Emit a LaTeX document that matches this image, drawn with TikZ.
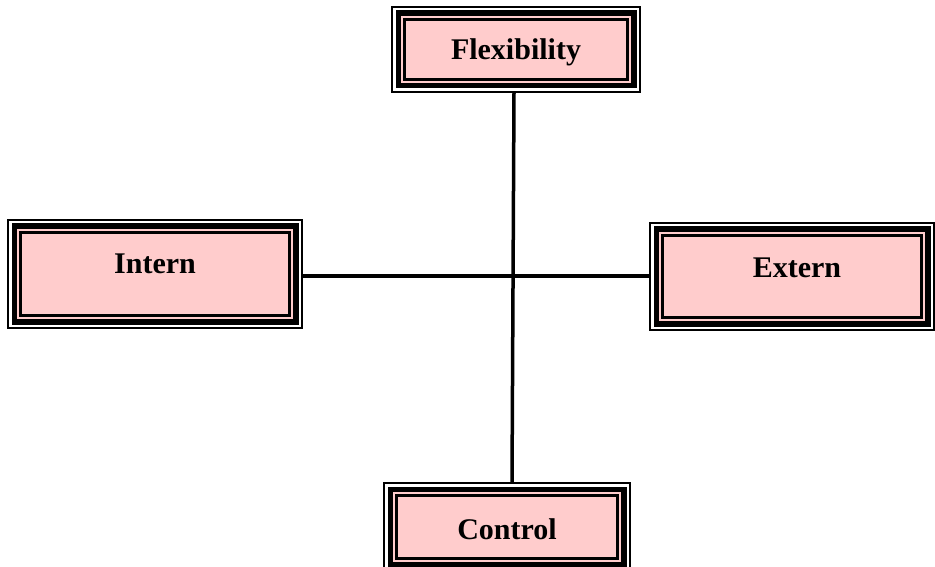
\documentclass[tikz,border=0pt]{standalone}
\usepackage{fontspec}
\setmainfont{Liberation Serif}
\definecolor{boxpink}{RGB}{255,204,204}
\tikzset{
  framebox/.style={draw=black, line width=1.5pt, fill=white, inner sep=0pt,
    font=\fontsize{30}{34}\selectfont\bfseries, text depth=0pt,
    path picture={
      \fill[black] ([shift={(3.5pt,3.5pt)}]path picture bounding box.south west) rectangle ([shift={(-3.5pt,-3.5pt)}]path picture bounding box.north east);
      \fill[boxpink] ([shift={(9pt,9pt)}]path picture bounding box.south west) rectangle ([shift={(-9pt,-9pt)}]path picture bounding box.north east);
      \draw[black, line width=3pt] ([shift={(12.5pt,12.5pt)}]path picture bounding box.south west) rectangle ([shift={(-12.5pt,-12.5pt)}]path picture bounding box.north east);
    }},
  link/.style={line width=3.5pt}
}
\begin{document}
\begin{tikzpicture}[x=1pt,y=1pt]
\useasboundingbox (0,0) rectangle (935,566);
\node[framebox, minimum width=248pt, minimum height=85pt, text height=20pt] (flex) at (516,516.5) {Flexibility};
\node[framebox, minimum width=294pt, minimum height=108pt, text height=0pt] (intern) at (155,292) {Intern};
\node[framebox, minimum width=284pt, minimum height=107pt, text height=3pt] (extern) at (792,289.5) {\hspace*{10pt}Extern};
\node[framebox, minimum width=246pt, minimum height=88pt, text height=25pt] (control) at (507,39) {Control};
\draw[link] ([xshift=-2pt]flex.south) -- ([xshift=5pt]control.north);
\draw[link] ([yshift=-2pt]intern.east) -- ([yshift=-2pt]intern.east -| extern.west);
\end{tikzpicture}
\end{document}
